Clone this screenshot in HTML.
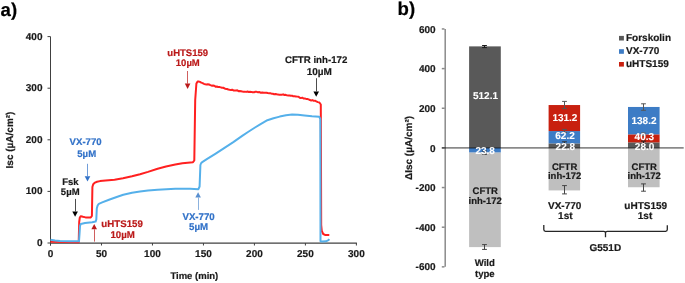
<!DOCTYPE html>
<html><head><meta charset="utf-8"><style>
html,body{margin:0;padding:0;background:#fff;width:685px;height:283px;overflow:hidden}
svg{display:block;will-change:transform}
</style></head><body>
<svg width="685" height="283" viewBox="0 0 685 283" font-family='"Liberation Sans", sans-serif' font-weight="bold" style="text-rendering:geometricPrecision">
<text transform="translate(0.6,15.6) scale(1.000,1)" font-size="18.60" text-anchor="start" fill="#000" stroke="#000" stroke-width="0.2">a)</text>
<line x1="50.5" y1="36.6" x2="50.5" y2="245.5" stroke="#404040" stroke-width="1"/>
<line x1="50.5" y1="243.0" x2="356.88" y2="243.0" stroke="#404040" stroke-width="1.25"/>
<line x1="47.5" y1="243.00" x2="50.5" y2="243.00" stroke="#404040" stroke-width="1"/>
<text transform="translate(42.5,245.90) scale(1.000,1)" font-size="10.00" text-anchor="end" fill="#1a1a1a" stroke="#1a1a1a" stroke-width="0.2">0</text>
<line x1="47.5" y1="191.40" x2="50.5" y2="191.40" stroke="#404040" stroke-width="1"/>
<text transform="translate(42.5,194.30) scale(1.000,1)" font-size="10.00" text-anchor="end" fill="#1a1a1a" stroke="#1a1a1a" stroke-width="0.2">100</text>
<line x1="47.5" y1="139.80" x2="50.5" y2="139.80" stroke="#404040" stroke-width="1"/>
<text transform="translate(42.5,142.70) scale(1.000,1)" font-size="10.00" text-anchor="end" fill="#1a1a1a" stroke="#1a1a1a" stroke-width="0.2">200</text>
<line x1="47.5" y1="88.20" x2="50.5" y2="88.20" stroke="#404040" stroke-width="1"/>
<text transform="translate(42.5,91.10) scale(1.000,1)" font-size="10.00" text-anchor="end" fill="#1a1a1a" stroke="#1a1a1a" stroke-width="0.2">300</text>
<line x1="47.5" y1="36.60" x2="50.5" y2="36.60" stroke="#404040" stroke-width="1"/>
<text transform="translate(42.5,39.50) scale(1.000,1)" font-size="10.00" text-anchor="end" fill="#1a1a1a" stroke="#1a1a1a" stroke-width="0.2">400</text>
<line x1="50.50" y1="243.0" x2="50.50" y2="245.5" stroke="#404040" stroke-width="1"/>
<text transform="translate(50.50,257.4) scale(1.000,1)" font-size="10.00" text-anchor="middle" fill="#1a1a1a" stroke="#1a1a1a" stroke-width="0.2">0</text>
<line x1="101.48" y1="243.0" x2="101.48" y2="245.5" stroke="#404040" stroke-width="1"/>
<text transform="translate(101.48,257.4) scale(1.000,1)" font-size="10.00" text-anchor="middle" fill="#1a1a1a" stroke="#1a1a1a" stroke-width="0.2">50</text>
<line x1="152.46" y1="243.0" x2="152.46" y2="245.5" stroke="#404040" stroke-width="1"/>
<text transform="translate(152.46,257.4) scale(1.000,1)" font-size="10.00" text-anchor="middle" fill="#1a1a1a" stroke="#1a1a1a" stroke-width="0.2">100</text>
<line x1="203.44" y1="243.0" x2="203.44" y2="245.5" stroke="#404040" stroke-width="1"/>
<text transform="translate(203.44,257.4) scale(1.000,1)" font-size="10.00" text-anchor="middle" fill="#1a1a1a" stroke="#1a1a1a" stroke-width="0.2">150</text>
<line x1="254.42" y1="243.0" x2="254.42" y2="245.5" stroke="#404040" stroke-width="1"/>
<text transform="translate(254.42,257.4) scale(1.000,1)" font-size="10.00" text-anchor="middle" fill="#1a1a1a" stroke="#1a1a1a" stroke-width="0.2">200</text>
<line x1="305.40" y1="243.0" x2="305.40" y2="245.5" stroke="#404040" stroke-width="1"/>
<text transform="translate(305.40,257.4) scale(1.000,1)" font-size="10.00" text-anchor="middle" fill="#1a1a1a" stroke="#1a1a1a" stroke-width="0.2">250</text>
<line x1="356.38" y1="243.0" x2="356.38" y2="245.5" stroke="#404040" stroke-width="1"/>
<text transform="translate(356.38,257.4) scale(1.000,1)" font-size="10.00" text-anchor="middle" fill="#1a1a1a" stroke="#1a1a1a" stroke-width="0.2">300</text>
<text transform="translate(194.3,279.3) scale(1.000,1)" font-size="9.50" text-anchor="middle" fill="#1a1a1a" stroke="#1a1a1a" stroke-width="0.2">Time (min)</text>
<text x="0" y="0" font-size="10.00" text-anchor="middle" fill="#1a1a1a" stroke="#1a1a1a" stroke-width="0.2" transform="translate(13.3,140) rotate(-90) scale(1.0,1)">Isc (µA/cm²)</text>
<polyline points="50.50,241.80 78.70,242.20 79.20,222.00 79.80,217.50 80.80,216.20 83.00,216.80 85.50,217.40 90.80,217.40 91.90,216.00 92.40,187.00 93.20,184.30 95.00,182.60 97.00,181.80 100.00,181.10 105.60,180.40 114.50,179.70 123.00,178.30 132.00,176.30 140.00,174.20 148.00,171.90 157.60,168.75 166.00,166.55 175.30,164.55 182.40,163.15 193.00,162.15 194.30,160.50 195.20,100.00 196.40,83.50 197.60,81.60 198.60,81.50 199.94,81.85 201.28,82.66 202.62,83.08 203.96,83.82 205.30,84.30 206.58,84.60 207.85,84.35 209.12,84.51 210.40,85.10 211.69,85.66 212.97,85.48 214.26,85.75 215.55,86.65 216.84,86.51 218.12,87.09 219.41,87.09 220.70,87.40 221.97,87.82 223.25,87.75 224.53,88.45 225.80,88.94 227.07,88.98 228.35,89.47 229.62,89.72 230.90,89.90 232.18,89.71 233.45,90.43 234.72,90.46 236.00,90.39 237.28,90.34 238.55,91.17 239.82,91.02 241.10,91.20 242.38,91.46 243.65,91.68 244.93,91.63 246.20,91.89 247.47,91.55 248.75,91.97 250.03,91.77 251.30,91.90 252.64,92.31 253.98,92.32 255.32,91.76 256.66,91.85 258.00,92.20 259.44,92.07 260.88,92.77 262.32,92.45 263.76,92.70 265.20,92.70 266.47,92.72 267.75,93.06 269.02,93.13 270.30,93.28 271.57,93.64 272.85,93.82 274.12,94.25 275.40,94.10 276.69,94.33 277.97,94.62 279.26,94.65 280.55,94.84 281.84,94.67 283.12,94.36 284.41,95.00 285.70,94.80 286.97,95.38 288.25,95.55 289.52,95.49 290.80,95.82 292.07,95.63 293.35,96.34 294.62,96.35 295.90,96.50 297.17,96.63 298.45,96.75 299.73,97.68 301.00,98.09 302.27,97.67 303.55,98.54 304.83,98.53 306.10,98.90 307.38,98.93 308.65,99.36 309.93,100.05 311.20,100.45 312.48,100.10 313.75,100.87 315.03,100.72 316.30,101.40 317.85,102.12 319.40,102.50 320.80,104.50 321.20,225.00 321.80,231.00 323.20,234.00 325.00,234.90 329.30,235.00" fill="none" stroke="#ff2020" stroke-width="2" stroke-linejoin="round"/>
<polyline points="50.50,239.70 55.00,240.60 60.00,241.10 70.00,241.30 79.00,241.30 79.50,234.00 80.00,226.00 80.80,223.90 85.00,223.10 92.20,222.20 95.60,221.60 96.30,219.50 96.80,208.50 97.60,205.50 98.80,203.80 102.20,202.40 109.00,199.70 117.40,196.80 123.30,194.70 132.00,192.70 140.00,191.60 148.00,190.60 157.60,189.70 175.30,188.70 190.00,188.80 198.40,189.20 199.60,186.50 200.40,165.00 201.20,163.00 202.60,161.90 206.80,159.20 215.70,153.60 224.50,147.90 233.30,142.10 242.20,135.90 248.00,132.00 255.00,127.50 261.00,123.80 267.40,120.20 273.50,118.20 279.70,116.60 286.00,115.30 292.10,114.60 298.00,114.80 304.50,115.50 312.00,116.30 319.30,116.80 320.30,119.00 320.50,241.20 322.00,241.60 326.00,241.30 328.50,240.20 329.30,239.20" fill="none" stroke="#55b0ea" stroke-width="2" stroke-linejoin="round"/>
<text transform="translate(85.6,145.0) scale(1.000,1)" font-size="9.60" text-anchor="middle" fill="#3272c8" stroke="#3272c8" stroke-width="0.2">VX-770</text>
<text transform="translate(86.7,157.4) scale(1.000,1)" font-size="9.60" text-anchor="middle" fill="#3272c8" stroke="#3272c8" stroke-width="0.2">5µM</text>
<line x1="87.5" y1="163.8" x2="87.5" y2="176.2" stroke="#3272c8" stroke-width="0.7"/><polygon points="84.7,176.2 90.3,176.2 87.5,181.6" fill="#3272c8"/>
<text transform="translate(70.4,185.0) scale(1.000,1)" font-size="9.50" text-anchor="middle" fill="#1a1a1a" stroke="#1a1a1a" stroke-width="0.2">Fsk</text>
<text transform="translate(70.2,194.6) scale(1.000,1)" font-size="9.50" text-anchor="middle" fill="#1a1a1a" stroke="#1a1a1a" stroke-width="0.2">5µM</text>
<line x1="75.5" y1="198.9" x2="75.5" y2="211.4" stroke="#000" stroke-width="0.7"/><polygon points="72.3,211.4 77.89999999999999,211.4 75.1,216.8" fill="#000"/>
<text transform="translate(187.7,55.9) scale(1.000,1)" font-size="9.50" text-anchor="middle" fill="#bb1a1a" stroke="#bb1a1a" stroke-width="0.2">uHTS159</text>
<text transform="translate(187.8,66.2) scale(1.000,1)" font-size="9.50" text-anchor="middle" fill="#bb1a1a" stroke="#bb1a1a" stroke-width="0.2">10µM</text>
<line x1="187.5" y1="71" x2="187.5" y2="83.6" stroke="#bb1a1a" stroke-width="0.7"/><polygon points="184.79999999999998,83.6 190.4,83.6 187.6,89" fill="#bb1a1a"/>
<text transform="translate(316.1,62.9) scale(1.000,1)" font-size="9.70" text-anchor="middle" fill="#1a1a1a" stroke="#1a1a1a" stroke-width="0.2">CFTR inh-172</text>
<text transform="translate(319.3,74.6) scale(1.000,1)" font-size="10.00" text-anchor="middle" fill="#1a1a1a" stroke="#1a1a1a" stroke-width="0.2">10µM</text>
<line x1="316.5" y1="78.2" x2="316.5" y2="91.39999999999999" stroke="#000" stroke-width="0.7"/><polygon points="313.4,91.39999999999999 319.0,91.39999999999999 316.2,96.8" fill="#000"/>
<text transform="translate(122.1,227.4) scale(1.000,1)" font-size="9.70" text-anchor="middle" fill="#bb1a1a" stroke="#bb1a1a" stroke-width="0.2">uHTS159</text>
<text transform="translate(122.7,237.6) scale(1.000,1)" font-size="9.70" text-anchor="middle" fill="#bb1a1a" stroke="#bb1a1a" stroke-width="0.2">10µM</text>
<line x1="94.5" y1="241.6" x2="94.5" y2="229.3" stroke="#bb1a1a" stroke-width="0.7"/><polygon points="91.4,229.3 97.0,229.3 94.2,223.9" fill="#bb1a1a"/>
<text transform="translate(198.6,219.7) scale(1.000,1)" font-size="9.70" text-anchor="middle" fill="#3272c8" stroke="#3272c8" stroke-width="0.2">VX-770</text>
<text transform="translate(198.6,230.3) scale(1.000,1)" font-size="9.70" text-anchor="middle" fill="#3272c8" stroke="#3272c8" stroke-width="0.2">5µM</text>
<line x1="198.5" y1="209.9" x2="198.5" y2="197.6" stroke="#5a90d0" stroke-width="0.7"/><polygon points="195.29999999999998,197.6 200.9,197.6 198.1,192.2" fill="#5a90d0"/>
<text transform="translate(397.6,15.2) scale(1.000,1)" font-size="18.60" text-anchor="start" fill="#000" stroke="#000" stroke-width="0.2">b)</text>
<line x1="445.2" y1="28.95" x2="445.2" y2="266.85" stroke="#000000" stroke-opacity="0.46" stroke-width="1.5"/>
<line x1="441.8" y1="28.95" x2="444.45" y2="28.95" stroke="#000000" stroke-opacity="0.46" stroke-width="1.5"/>
<text transform="translate(435.6,32.55) scale(1.000,1)" font-size="10.00" text-anchor="end" fill="#1a1a1a" stroke="#1a1a1a" stroke-width="0.2">600</text>
<line x1="441.8" y1="68.60" x2="444.45" y2="68.60" stroke="#000000" stroke-opacity="0.46" stroke-width="1.5"/>
<text transform="translate(435.6,72.20) scale(1.000,1)" font-size="10.00" text-anchor="end" fill="#1a1a1a" stroke="#1a1a1a" stroke-width="0.2">400</text>
<line x1="441.8" y1="108.25" x2="444.45" y2="108.25" stroke="#000000" stroke-opacity="0.46" stroke-width="1.5"/>
<text transform="translate(435.6,111.85) scale(1.000,1)" font-size="10.00" text-anchor="end" fill="#1a1a1a" stroke="#1a1a1a" stroke-width="0.2">200</text>
<line x1="441.8" y1="147.90" x2="444.45" y2="147.90" stroke="#000000" stroke-opacity="0.46" stroke-width="1.5"/>
<text transform="translate(435.6,151.50) scale(1.000,1)" font-size="10.00" text-anchor="end" fill="#1a1a1a" stroke="#1a1a1a" stroke-width="0.2">0</text>
<line x1="441.8" y1="187.55" x2="444.45" y2="187.55" stroke="#000000" stroke-opacity="0.46" stroke-width="1.5"/>
<text transform="translate(435.6,191.15) scale(1.000,1)" font-size="10.00" text-anchor="end" fill="#1a1a1a" stroke="#1a1a1a" stroke-width="0.2">-200</text>
<line x1="441.8" y1="227.20" x2="444.45" y2="227.20" stroke="#000000" stroke-opacity="0.46" stroke-width="1.5"/>
<text transform="translate(435.6,230.80) scale(1.000,1)" font-size="10.00" text-anchor="end" fill="#1a1a1a" stroke="#1a1a1a" stroke-width="0.2">-400</text>
<line x1="441.8" y1="266.85" x2="444.45" y2="266.85" stroke="#000000" stroke-opacity="0.46" stroke-width="1.5"/>
<text transform="translate(435.6,270.45) scale(1.000,1)" font-size="10.00" text-anchor="end" fill="#1a1a1a" stroke="#1a1a1a" stroke-width="0.2">-600</text>
<text x="0" y="0" font-size="10.00" text-anchor="middle" fill="#1a1a1a" stroke="#1a1a1a" stroke-width="0.2" transform="translate(412.3,148) rotate(-90) scale(1.0,1)">ΔIsc (µA/cm²)</text>
<rect x="469.1" y="46.38" width="31.70" height="101.52" fill="#595959"/>
<rect x="469.1" y="147.90" width="31.70" height="4.72" fill="#3d7cc5"/>
<rect x="469.1" y="152.62" width="31.70" height="94.49" fill="#bfbfbf"/>
<rect x="548.6" y="143.38" width="31.50" height="4.52" fill="#595959"/>
<rect x="548.6" y="131.05" width="31.50" height="12.33" fill="#3d7cc5"/>
<rect x="548.6" y="105.04" width="31.50" height="26.01" fill="#c8200f"/>
<rect x="548.6" y="147.90" width="31.50" height="42.52" fill="#bfbfbf"/>
<rect x="628.0" y="142.35" width="31.60" height="5.55" fill="#595959"/>
<rect x="628.0" y="134.36" width="31.60" height="7.99" fill="#c8200f"/>
<rect x="628.0" y="106.96" width="31.60" height="27.40" fill="#3d7cc5"/>
<rect x="628.0" y="147.90" width="31.60" height="39.35" fill="#bfbfbf"/>
<line x1="441.8" y1="147.9" x2="683.7" y2="147.9" stroke="#000000" stroke-opacity="0.46" stroke-width="1.6"/>
<line x1="484.5" y1="45.5" x2="484.5" y2="47.6" stroke="#1a1a1a" stroke-width="1"/><line x1="482.1" y1="45.5" x2="486.9" y2="45.5" stroke="#1a1a1a" stroke-width="1"/><line x1="482.1" y1="47.6" x2="486.9" y2="47.6" stroke="#1a1a1a" stroke-width="1"/>
<line x1="484.5" y1="244.6" x2="484.5" y2="249.4" stroke="#444" stroke-width="1"/><line x1="482.1" y1="244.6" x2="486.9" y2="244.6" stroke="#444" stroke-width="1"/><line x1="482.1" y1="249.4" x2="486.9" y2="249.4" stroke="#444" stroke-width="1"/>
<line x1="564.5" y1="101.4" x2="564.5" y2="108.6" stroke="#555" stroke-width="1"/><line x1="562.1" y1="101.4" x2="566.9" y2="101.4" stroke="#555" stroke-width="1"/><line x1="562.1" y1="108.6" x2="566.9" y2="108.6" stroke="#555" stroke-width="1"/>
<line x1="564.5" y1="185.6" x2="564.5" y2="193.9" stroke="#444" stroke-width="1"/><line x1="562.1" y1="185.6" x2="566.9" y2="185.6" stroke="#444" stroke-width="1"/><line x1="562.1" y1="193.9" x2="566.9" y2="193.9" stroke="#444" stroke-width="1"/>
<line x1="643.5" y1="103.8" x2="643.5" y2="110.3" stroke="#555" stroke-width="1"/><line x1="641.1" y1="103.8" x2="645.9" y2="103.8" stroke="#555" stroke-width="1"/><line x1="641.1" y1="110.3" x2="645.9" y2="110.3" stroke="#555" stroke-width="1"/>
<line x1="643.5" y1="183.9" x2="643.5" y2="191.2" stroke="#444" stroke-width="1"/><line x1="641.1" y1="183.9" x2="645.9" y2="183.9" stroke="#444" stroke-width="1"/><line x1="641.1" y1="191.2" x2="645.9" y2="191.2" stroke="#444" stroke-width="1"/>
<line x1="484.5" y1="151.0" x2="484.5" y2="154.3" stroke="#333" stroke-width="1"/><line x1="482.1" y1="151.0" x2="486.9" y2="151.0" stroke="#333" stroke-width="1"/><line x1="482.1" y1="154.3" x2="486.9" y2="154.3" stroke="#333" stroke-width="1"/>
<line x1="564.5" y1="129.4" x2="564.5" y2="132.4" stroke="#555" stroke-width="1"/><line x1="562.1" y1="129.4" x2="566.9" y2="129.4" stroke="#555" stroke-width="1"/><line x1="562.1" y1="132.4" x2="566.9" y2="132.4" stroke="#555" stroke-width="1"/>
<line x1="564.5" y1="141.8" x2="564.5" y2="144.3" stroke="#333" stroke-width="1"/><line x1="562.1" y1="141.8" x2="566.9" y2="141.8" stroke="#333" stroke-width="1"/><line x1="562.1" y1="144.3" x2="566.9" y2="144.3" stroke="#333" stroke-width="1"/>
<line x1="643.5" y1="132.9" x2="643.5" y2="135.5" stroke="#666" stroke-width="1"/><line x1="641.1" y1="132.9" x2="645.9" y2="132.9" stroke="#666" stroke-width="1"/><line x1="641.1" y1="135.5" x2="645.9" y2="135.5" stroke="#666" stroke-width="1"/>
<line x1="643.5" y1="141.1" x2="643.5" y2="143.5" stroke="#222" stroke-width="1"/><line x1="641.1" y1="141.1" x2="645.9" y2="141.1" stroke="#222" stroke-width="1"/><line x1="641.1" y1="143.5" x2="645.9" y2="143.5" stroke="#222" stroke-width="1"/>
<text transform="translate(485.5,98.5) scale(1.000,1)" font-size="10.00" text-anchor="middle" fill="#ffffff" stroke="#ffffff" stroke-width="0.1">512.1</text>
<text transform="translate(485.2,153.6) scale(1.000,1)" font-size="10.00" text-anchor="middle" fill="#ffffff" stroke="#ffffff" stroke-width="0.1">23.8</text>
<text transform="translate(564.9,120.9) scale(1.000,1)" font-size="10.00" text-anchor="middle" fill="#ffffff" stroke="#ffffff" stroke-width="0.1">131.2</text>
<text transform="translate(565.0,138.6) scale(1.000,1)" font-size="10.00" text-anchor="middle" fill="#ffffff" stroke="#ffffff" stroke-width="0.1">62.2</text>
<text transform="translate(565.3,150.0) scale(1.000,1)" font-size="10.00" text-anchor="middle" fill="#ffffff" stroke="#ffffff" stroke-width="0.1">22.8</text>
<text transform="translate(644.0,123.5) scale(1.000,1)" font-size="10.00" text-anchor="middle" fill="#ffffff" stroke="#ffffff" stroke-width="0.1">138.2</text>
<text transform="translate(644.3,140.4) scale(1.000,1)" font-size="10.00" text-anchor="middle" fill="#ffffff" stroke="#ffffff" stroke-width="0.1">40.3</text>
<text transform="translate(644.6,150.0) scale(1.000,1)" font-size="10.00" text-anchor="middle" fill="#ffffff" stroke="#ffffff" stroke-width="0.1">28.0</text>
<text transform="translate(485.2,193.7) scale(1.000,1)" font-size="9.50" text-anchor="middle" fill="#1a1a1a" stroke="#1a1a1a" stroke-width="0.2">CFTR</text>
<text transform="translate(485.2,203.6) scale(1.000,1)" font-size="9.50" text-anchor="middle" fill="#1a1a1a" stroke="#1a1a1a" stroke-width="0.2">inh-172</text>
<text transform="translate(564.6,169.6) scale(1.000,1)" font-size="9.50" text-anchor="middle" fill="#1a1a1a" stroke="#1a1a1a" stroke-width="0.2">CFTR</text>
<text transform="translate(564.6,179.0) scale(1.000,1)" font-size="9.50" text-anchor="middle" fill="#1a1a1a" stroke="#1a1a1a" stroke-width="0.2">inh-172</text>
<text transform="translate(644.2,169.6) scale(1.000,1)" font-size="9.50" text-anchor="middle" fill="#1a1a1a" stroke="#1a1a1a" stroke-width="0.2">CFTR</text>
<text transform="translate(644.2,179.0) scale(1.000,1)" font-size="9.50" text-anchor="middle" fill="#1a1a1a" stroke="#1a1a1a" stroke-width="0.2">inh-172</text>
<text transform="translate(484.8,265.6) scale(1.000,1)" font-size="9.60" text-anchor="middle" fill="#1a1a1a" stroke="#1a1a1a" stroke-width="0.2">Wild</text>
<text transform="translate(484.8,276.6) scale(1.000,1)" font-size="9.60" text-anchor="middle" fill="#1a1a1a" stroke="#1a1a1a" stroke-width="0.2">type</text>
<text transform="translate(564.7,209.0) scale(1.000,1)" font-size="10.00" text-anchor="middle" fill="#1a1a1a" stroke="#1a1a1a" stroke-width="0.2">VX-770</text>
<text transform="translate(565.3,218.9) scale(1.000,1)" font-size="10.00" text-anchor="middle" fill="#1a1a1a" stroke="#1a1a1a" stroke-width="0.2">1st</text>
<text transform="translate(645.7,209.0) scale(1.000,1)" font-size="10.00" text-anchor="middle" fill="#1a1a1a" stroke="#1a1a1a" stroke-width="0.2">uHTS159</text>
<text transform="translate(645.0,218.9) scale(1.000,1)" font-size="10.00" text-anchor="middle" fill="#1a1a1a" stroke="#1a1a1a" stroke-width="0.2">1st</text>
<text transform="translate(605.3,251.1) scale(1.000,1)" font-size="10.00" text-anchor="middle" fill="#1a1a1a" stroke="#1a1a1a" stroke-width="0.2">G551D</text>
<path d="M543.8,225.0 L543.8,229.6 Q543.8,231.3 545.5,231.3 L603.8,231.3 Q605.5,231.3 605.5,233 L605.5,237.3 M605.5,233 Q605.5,231.3 607.2,231.3 L665.6,231.3 Q667.3,231.3 667.3,229.6 L667.3,225.2" fill="none" stroke="#262626" stroke-width="1.3"/>
<rect x="619.0" y="35.9" width="4.9" height="4.6" fill="#595959"/>
<text transform="translate(626.0,40.9) scale(1.000,1)" font-size="10.00" text-anchor="start" fill="#1a1a1a" stroke="#1a1a1a" stroke-width="0.2">Forskolin</text>
<rect x="619.0" y="49.2" width="4.9" height="4.6" fill="#3d7cc5"/>
<text transform="translate(626.0,54.2) scale(1.000,1)" font-size="10.00" text-anchor="start" fill="#1a1a1a" stroke="#1a1a1a" stroke-width="0.2">VX-770</text>
<rect x="619.0" y="62.0" width="4.9" height="4.6" fill="#c8200f"/>
<text transform="translate(626.0,67.4) scale(1.000,1)" font-size="10.00" text-anchor="start" fill="#1a1a1a" stroke="#1a1a1a" stroke-width="0.2">uHTS159</text>
</svg>
</body></html>
